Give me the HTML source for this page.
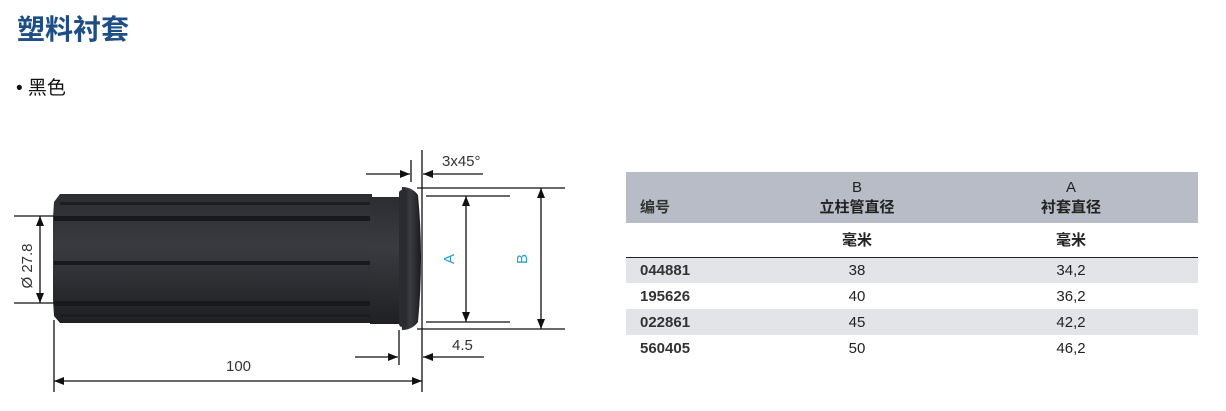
<!DOCTYPE html>
<html><head><meta charset="utf-8">
<style>
body{margin:0;background:#fff;width:1226px;height:411px;overflow:hidden;position:relative;font-family:"Liberation Sans","Noto Sans CJK SC",sans-serif;}
.t{position:absolute;white-space:nowrap;}
table{position:absolute;left:626px;top:172px;width:572px;border-collapse:collapse;font-size:15px;color:#222;table-layout:fixed;}
td{padding:0;text-align:center;}
td:first-child{text-align:left;padding-left:14px;font-weight:bold;color:#333;}
</style></head><body>
<div class="t" style="left:17px;top:8px;font-size:28px;font-weight:bold;color:#1f4e87;">塑料衬套</div>
<div class="t" style="left:16px;top:73px;font-size:19px;color:#111;">• 黑色</div>

<svg width="1226" height="411" style="position:absolute;left:0;top:0">
<defs>
<linearGradient id="g" x1="0" y1="0" x2="0" y2="1">
<stop offset="0" stop-color="#2c2d31"/><stop offset="0.4" stop-color="#3a3b40"/><stop offset="1" stop-color="#1f2023"/></linearGradient>
<linearGradient id="r" x1="0" y1="0" x2="1" y2="0">
<stop offset="0" stop-color="#222327"/><stop offset="0.5" stop-color="#3a3b40"/><stop offset="1" stop-color="#1a1b1e"/></linearGradient>
<marker id="a" markerWidth="10" markerHeight="8" refX="10" refY="4" orient="auto" markerUnits="userSpaceOnUse"><path d="M0,0L10,4L0,8z" fill="#111"/></marker>
<marker id="s" markerWidth="10" markerHeight="8" refX="0" refY="4" orient="auto" markerUnits="userSpaceOnUse"><path d="M10,0L0,4L10,8z" fill="#111"/></marker>
</defs>
<path d="M60,194 L372,194 L372,323 L60,323 L54,316 L53,300 L53,218 L54,202 Z" fill="url(#g)"/>
<rect x="60" y="202" width="312" height="3" fill="#1c1d20"/>
<rect x="54" y="216" width="318" height="5" fill="#18191c"/>
<rect x="54" y="261" width="318" height="4" fill="#18191c"/>
<rect x="54" y="301" width="318" height="5" fill="#18191c"/>
<rect x="60" y="314" width="312" height="3" fill="#1c1d20"/>
<rect x="370" y="197" width="32" height="127" fill="url(#g)"/>
<path d="M402,187 Q412,187 418,195 Q424,258 418,322 Q412,330 402,330 Q398,258 402,187 Z" fill="url(#r)"/>
<rect x="399" y="190" width="8" height="137" rx="3" fill="#2a2b2f"/>
<g stroke="#111" stroke-width="1.3" fill="none">
<line x1="14" y1="216" x2="54" y2="216"/><line x1="14" y1="303" x2="54" y2="303"/>
<line x1="40" y1="216" x2="40" y2="303" marker-start="url(#s)" marker-end="url(#a)"/>
<line x1="54" y1="320" x2="54" y2="392"/>
<line x1="422" y1="150" x2="422" y2="392"/>
<line x1="54" y1="381" x2="422" y2="381" marker-start="url(#s)" marker-end="url(#a)"/>
<line x1="411" y1="160" x2="411" y2="182"/>
<line x1="366" y1="174" x2="410" y2="174" marker-end="url(#a)"/>
<line x1="483" y1="174" x2="423" y2="174" marker-end="url(#a)"/>
<line x1="399" y1="330" x2="399" y2="365"/>
<line x1="355" y1="357" x2="398" y2="357" marker-end="url(#a)"/>
<line x1="484" y1="357" x2="423" y2="357" marker-end="url(#a)"/>
<line x1="426" y1="196" x2="510" y2="196"/><line x1="426" y1="322" x2="510" y2="322"/>
<line x1="466" y1="196" x2="466" y2="322" marker-start="url(#s)" marker-end="url(#a)"/>
<line x1="417" y1="188" x2="565" y2="188"/><line x1="417" y1="329" x2="565" y2="329"/>
<line x1="541" y1="188" x2="541" y2="329" marker-start="url(#s)" marker-end="url(#a)"/>
</g>
<g font-family="Liberation Sans,sans-serif" font-size="15" fill="#333">
<text x="442" y="166">3x45°</text>
<text x="452" y="350">4.5</text>
<text x="226" y="371">100</text>
<text transform="translate(32,266) rotate(-90)" text-anchor="middle">Ø 27.8</text>
<text transform="translate(454,259) rotate(-90)" text-anchor="middle" fill="#2a9fd6">A</text>
<text transform="translate(527,259) rotate(-90)" text-anchor="middle" fill="#2a9fd6">B</text>
</g>
</svg>

<table>
<colgroup><col style="width:144px"><col style="width:174px"><col style="width:254px"></colgroup>
<tr style="background:#b8bcc6;height:51px;font-weight:bold;"><td style="vertical-align:bottom;padding-bottom:6px;">编号</td><td style="line-height:20px;"><span style="font-weight:normal">B</span><br>立柱管直径</td><td style="line-height:20px;"><span style="font-weight:normal">A</span><br>衬套直径</td></tr>
<tr style="height:34px;font-weight:bold;border-bottom:1.5px solid #222;"><td></td><td>毫米</td><td>毫米</td></tr>
<tr style="background:#e3e4e8;height:26px;"><td>044881</td><td>38</td><td>34,2</td></tr>
<tr style="height:26px;"><td>195626</td><td>40</td><td>36,2</td></tr>
<tr style="background:#e3e4e8;height:26px;"><td>022861</td><td>45</td><td>42,2</td></tr>
<tr style="height:26px;"><td>560405</td><td>50</td><td>46,2</td></tr>
</table>
</body></html>
